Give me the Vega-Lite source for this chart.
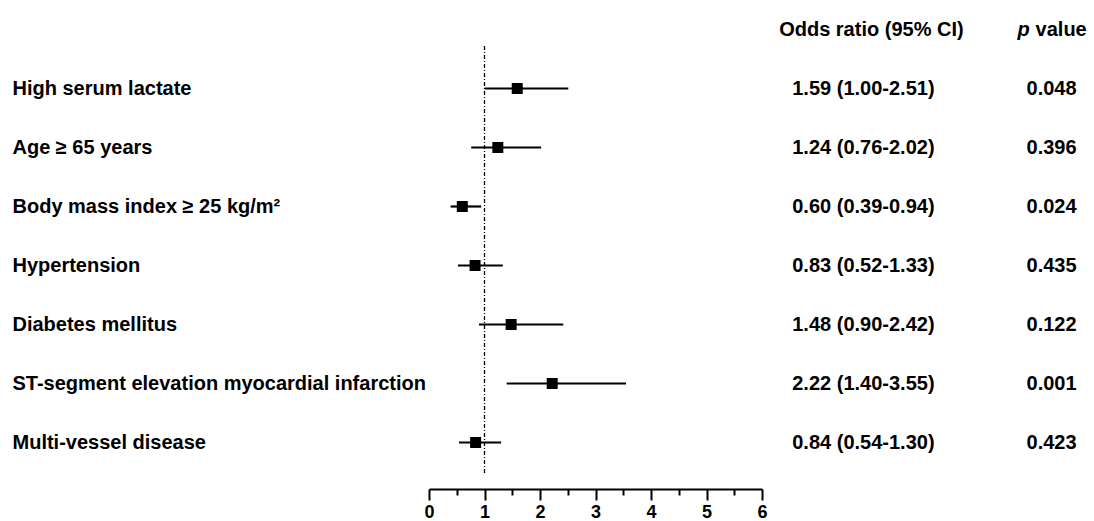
{
  "$schema": "https://vega.github.io/schema/vega-lite/v6.json",
  "background": "white",
  "padding": {"left": 12, "top": 0, "right": 0, "bottom": 0},
  "bounds": "flush",
  "spacing": 60,
  "data": {
    "values": [
      {"label": "High serum lactate", "or": 1.59, "lo": 1.00, "hi": 2.51, "ci": "1.59 (1.00-2.51)", "p": "0.048"},
      {"label": "Age ≥ 65 years", "or": 1.24, "lo": 0.76, "hi": 2.02, "ci": "1.24 (0.76-2.02)", "p": "0.396"},
      {"label": "Body mass index ≥ 25 kg/m²", "or": 0.60, "lo": 0.39, "hi": 0.94, "ci": "0.60 (0.39-0.94)", "p": "0.024"},
      {"label": "Hypertension", "or": 0.83, "lo": 0.52, "hi": 1.33, "ci": "0.83 (0.52-1.33)", "p": "0.435"},
      {"label": "Diabetes mellitus", "or": 1.48, "lo": 0.90, "hi": 2.42, "ci": "1.48 (0.90-2.42)", "p": "0.122"},
      {"label": "ST-segment elevation myocardial infarction", "or": 2.22, "lo": 1.40, "hi": 3.55, "ci": "2.22 (1.40-3.55)", "p": "0.001"},
      {"label": "Multi-vessel disease", "or": 0.84, "lo": 0.54, "hi": 1.30, "ci": "0.84 (0.54-1.30)", "p": "0.423"}
    ]
  },
  "config": {
    "view": {"stroke": null},
    "font": "Liberation Sans",
    "text": {"font": "Liberation Sans", "fontSize": 20, "fontWeight": "bold", "color": "black", "baseline": "middle"}
  },
  "hconcat": [
    {
      "width": 333,
      "height": 472,
      "encoding": {
        "y": {
          "field": "label",
          "type": "nominal",
          "title": null,
          "scale": {
            "type": "band",
            "paddingInner": 0,
            "paddingOuter": 0,
            "domain": ["header", "High serum lactate", "Age ≥ 65 years", "Body mass index ≥ 25 kg/m²", "Hypertension", "Diabetes mellitus", "ST-segment elevation myocardial infarction", "Multi-vessel disease"]
          },
          "axis": {
            "orient": "left",
            "labelAlign": "left",
            "labelBaseline": "middle",
            "labelPadding": 417,
            "ticks": false,
            "tickSize": 0,
            "domain": false,
            "grid": false,
            "labelLimit": 0,
            "labelFont": "Liberation Sans",
            "labelFontSize": 20,
            "labelFontWeight": "bold",
            "labelColor": "black",
            "labelExpr": "datum.value == 'header' ? '' : datum.value"
          }
        }
      },
      "resolve": {"axis": {"x": "independent"}},
      "layer": [
        {
          "data": {"values": [{}]},
          "mark": {"type": "rule", "strokeDash": [4, 2, 1, 2], "strokeWidth": 1.3, "color": "black"},
          "encoding": {
            "x": {
              "datum": 1,
              "type": "quantitative",
              "scale": {"domain": [0, 6], "nice": false, "zero": true},
              "axis": {
                "orient": "bottom",
                "values": [0.5, 1.5, 2.5, 3.5, 4.5, 5.5],
                "tickSize": 6,
                "tickWidth": 2,
                "tickColor": "black",
                "labels": false,
                "domain": false,
                "grid": false,
                "title": null,
                "offset": 17
              }
            },
            "y": {"datum": "header", "bandPosition": 0.78, "title": null},
            "y2": {"datum": "Multi-vessel disease", "bandPosition": 1.05}
          }
        },
        {
          "mark": {"type": "rule", "strokeWidth": 2.2, "color": "black"},
          "encoding": {
            "x": {
              "field": "lo",
              "type": "quantitative",
              "scale": {"domain": [0, 6], "nice": false, "zero": true},
              "axis": {
                "orient": "bottom",
                "values": [0, 1, 2, 3, 4, 5, 6],
                "format": "d",
                "tickSize": 11,
                "tickWidth": 2,
                "tickColor": "black",
                "domainWidth": 2,
                "domainColor": "black",
                "grid": false,
                "title": null,
                "offset": 17,
                "labelFlush": false,
                "labelFont": "Liberation Sans",
                "labelFontSize": 18,
                "labelFontWeight": "bold",
                "labelColor": "black",
                "labelPadding": 3
              }
            },
            "x2": {"field": "hi"}
          }
        },
        {
          "mark": {"type": "point", "shape": "square", "filled": true, "size": 121, "color": "black", "opacity": 1},
          "encoding": {
            "x": {"field": "or", "type": "quantitative", "axis": null}
          }
        }
      ]
    },
    {
      "width": 271,
      "height": 472,
      "encoding": {
        "y": {
          "field": "label",
          "type": "nominal",
          "axis": null,
          "scale": {
            "type": "band",
            "paddingInner": 0,
            "paddingOuter": 0,
            "domain": ["header", "High serum lactate", "Age ≥ 65 years", "Body mass index ≥ 25 kg/m²", "Hypertension", "Diabetes mellitus", "ST-segment elevation myocardial infarction", "Multi-vessel disease"]
          }
        }
      },
      "layer": [
        {
          "mark": {"type": "text"},
          "encoding": {
            "x": {"datum": "or", "type": "nominal", "axis": null, "scale": {"type": "point", "domain": ["or", "p"], "padding": 0.22}},
            "text": {"field": "ci"}
          }
        },
        {
          "mark": {"type": "text"},
          "encoding": {
            "x": {"datum": "p", "type": "nominal"},
            "text": {"field": "p"}
          }
        },
        {
          "data": {"values": [{}]},
          "mark": {"type": "text", "text": "Odds ratio (95% CI)", "dx": 8},
          "encoding": {
            "x": {"datum": "or", "type": "nominal"},
            "y": {"datum": "header"}
          }
        },
        {
          "data": {"values": [{}]},
          "mark": {"type": "text", "text": "p", "fontStyle": "italic", "align": "right", "dx": -22},
          "encoding": {
            "x": {"datum": "p", "type": "nominal"},
            "y": {"datum": "header"}
          }
        },
        {
          "data": {"values": [{}]},
          "mark": {"type": "text", "text": "value", "align": "left", "dx": -16},
          "encoding": {
            "x": {"datum": "p", "type": "nominal"},
            "y": {"datum": "header"}
          }
        }
      ]
    }
  ]
}
